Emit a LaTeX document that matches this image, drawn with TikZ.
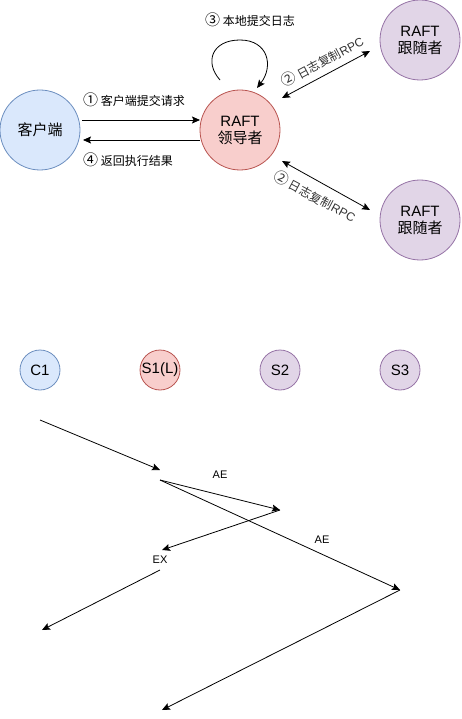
\documentclass[tikz,border=0pt]{standalone}
\usepackage{fontspec}
\setmainfont{Liberation Sans}
\newfontfamily\cjk{Noto Sans CJK SC}
\usetikzlibrary{arrows.meta}
\definecolor{cfill}{HTML}{DAE8FC}\definecolor{cdraw}{HTML}{6C8EBF}
\definecolor{lfill}{HTML}{F8CECC}\definecolor{ldraw}{HTML}{B85450}
\definecolor{ffill}{HTML}{E1D5E7}\definecolor{fdraw}{HTML}{9673A6}
\definecolor{lblgray}{HTML}{333333}
\newcommand{\numc}[1]{{\cjk\fontsize{15}{15}\selectfont #1}}
\tikzset{
  big/.style={circle,minimum size=80pt,inner sep=0pt,line width=0.8pt,align=center,font=\fontsize{15}{17}\selectfont},
  small/.style={circle,minimum size=40pt,inner sep=0pt,line width=0.8pt,font=\fontsize{15}{17}\selectfont},
  client/.style={fill=cfill,draw=cdraw},
  leader/.style={fill=lfill,draw=ldraw},
  follower/.style={fill=ffill,draw=fdraw},
  lbl/.style={font=\fontsize{11}{13}\selectfont,inner sep=0pt},
  clbl/.style={font=\cjk\fontsize{12}{14}\selectfont,inner sep=0pt},
  conn/.style={line width=0.8pt,-{Stealth[length=8pt,width=7pt,inset=1.5pt]}},
  bconn/.style={line width=0.8pt,{Stealth[length=8pt,width=7pt,inset=1.5pt]}-{Stealth[length=8pt,width=7pt,inset=1.5pt]}}
}
\begin{document}
\begin{tikzpicture}[x=1pt,y=-1pt]
\useasboundingbox (0,0) rectangle (461,719);
% top diagram
\node[big,client] (client) at (40,130) {\cjk 客户端};
\node[big,leader] (leader) at (240,130) {RAFT\\{\cjk 领导者}};
\node[big,follower] (f1) at (420,40) {RAFT\\{\cjk 跟随者}};
\node[big,follower] (f2) at (420,220) {RAFT\\{\cjk 跟随者}};

\coordinate (c1s) at (82,120); \coordinate (c1e) at (200,120);
\coordinate (c4s) at (200,140); \coordinate (c4e) at (83,140);
\draw[conn] (c1s) -- (c1e);
\draw[conn] (c4s) -- (c4e);
\node[clbl,anchor=west] (l1) at (83,100) {\numc{①} 客户端提交请求};
\node[clbl,anchor=west] (l4) at (83,160) {\numc{④} 返回执行结果};

\coordinate (ls) at (220,80); \coordinate (le) at (257,88);
\draw[conn] (ls) .. controls (204,62) and (212,40) .. (240,40) .. controls (268,40) and (274,66) .. (le);
\node[clbl,anchor=west] (l3) at (205,20) {\numc{③} 本地提交日志};

\coordinate (u1) at (282,98); \coordinate (u2) at (370,51);
\draw[bconn] (u1) -- (u2);
\node[clbl,text=lblgray,rotate=28] (l2a) at (322,61) {\numc{②} 日志复制{\rmfamily RPC}};
\coordinate (d1) at (282,161); \coordinate (d2) at (370,210);
\draw[bconn] (d1) -- (d2);
\node[clbl,text=lblgray,rotate=-28] (l2b) at (315,196) {\numc{②} 日志复制{\rmfamily RPC}};

% bottom diagram
\node[small,client] (C1) at (40,370) {C1};
\node[small,leader] (S1) at (160,370) {S1(L)};
\node[small,follower] (S2) at (280,370) {S2};
\node[small,follower] (S3) at (400,370) {S3};

\coordinate (a1) at (40,420); \coordinate (a2) at (160,470);
\coordinate (b1) at (160,480); \coordinate (b2) at (280,510);
\coordinate (c2) at (400,590);
\coordinate (d3) at (162,550);
\coordinate (e1) at (160,570); \coordinate (e2) at (42,630);
\coordinate (f3) at (162,710);
\draw[conn] (a1) -- (a2);
\draw[conn] (b1) -- (b2);
\draw[conn] (b1) -- (c2);
\draw[conn] (b2) -- (d3);
\draw[conn] (e1) -- (e2);
\draw[conn] (c2) -- (f3);
\node[lbl] (ae1) at (220,475) {AE};
\node[lbl] (ae2) at (322,540) {AE};
\node[lbl] (ex) at (160,560) {EX};
\end{tikzpicture}
\end{document}
